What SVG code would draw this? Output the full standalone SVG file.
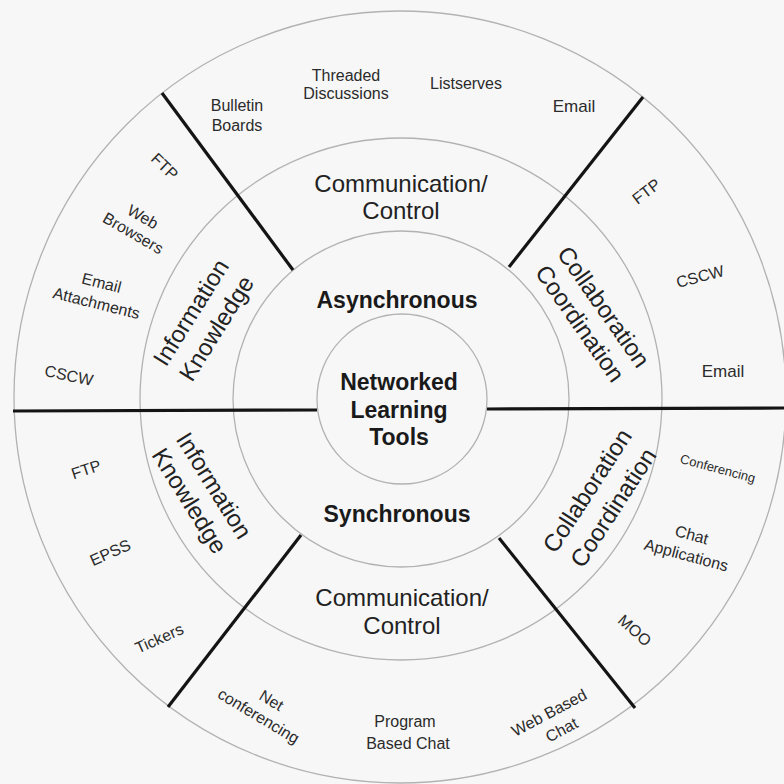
<svg xmlns="http://www.w3.org/2000/svg" width="784" height="784" viewBox="0 0 784 784">
  <style>
    .ring { fill: none; stroke: #b2b2b2; stroke-width: 1.3; }
    .sep { stroke: #141414; stroke-width: 3.2; stroke-linecap: butt; }
    text { font-family: "Liberation Sans", Arial, sans-serif; fill: #2b2b2b; text-anchor: middle; }
    .item { font-size: 16px; }
    .small { font-size: 13px; }
    .mode { font-size: 24px; fill: #222; }
    .hub { font-size: 23px; font-weight: bold; fill: #1a1a1a; }
  </style>

  <rect width="784" height="784" fill="#f7f7f7"/>

  <!-- concentric rings -->
  <g id="rings">
    <circle class="ring" cx="400" cy="397" r="386"/>
    <circle class="ring" cx="401" cy="399" r="261"/>
    <circle class="ring" cx="401" cy="399" r="168"/>
    <circle class="ring" cx="402" cy="399" r="85"/>
  </g>

  <!-- sector dividers -->
  <g id="connectors">
    <line class="sep" x1="13" y1="411" x2="317" y2="410"/>
    <line class="sep" x1="487" y1="409" x2="784" y2="408"/>
    <line class="sep" x1="162" y1="93" x2="293" y2="270"/>
    <line class="sep" x1="643" y1="97" x2="509" y2="267"/>
    <line class="sep" x1="301" y1="535" x2="168" y2="707"/>
    <line class="sep" x1="499" y1="538" x2="635" y2="708"/>
  </g>

  <!-- hub -->
  <g id="hub">
    <text class="hub"><tspan x="399" y="390">Networked</tspan><tspan x="399" y="418">Learning</tspan><tspan x="399" y="445">Tools</tspan></text>
  </g>
  <g id="asynchronous"><text class="hub" x="397" y="308">Asynchronous</text></g>
  <g id="synchronous"><text class="hub" x="397" y="522">Synchronous</text></g>

  <!-- middle ring: asynchronous -->
  <g id="async-communication">
    <text class="mode"><tspan x="401" y="192">Communication/</tspan><tspan x="401" y="219">Control</tspan></text>
  </g>
  <g id="async-information">
    <text class="mode" transform="translate(203 320) rotate(-58)"><tspan x="0" y="-6">Information</tspan><tspan x="0" y="24">Knowledge</tspan></text>
  </g>
  <g id="async-collaboration">
    <text class="mode" transform="translate(592 315) rotate(55)"><tspan x="0" y="-6">Collaboration</tspan><tspan x="0" y="23">Coordination</tspan></text>
  </g>

  <!-- middle ring: synchronous -->
  <g id="sync-communication">
    <text class="mode"><tspan x="402" y="606">Communication/</tspan><tspan x="402" y="634">Control</tspan></text>
  </g>
  <g id="sync-information">
    <text class="mode" transform="translate(202 493) rotate(58)"><tspan x="0" y="-6">Information</tspan><tspan x="0" y="23">Knowledge</tspan></text>
  </g>
  <g id="sync-collaboration">
    <text class="mode" transform="translate(600 499) rotate(-57)"><tspan x="0" y="-7">Collaboration</tspan><tspan x="0" y="24">Coordination</tspan></text>
  </g>

  <!-- outer ring: asynchronous communication tools -->
  <g id="bulletin-boards"><text class="item"><tspan x="237" y="111">Bulletin</tspan><tspan x="237" y="131">Boards</tspan></text></g>
  <g id="threaded-discussions"><text class="item"><tspan x="346" y="81">Threaded</tspan><tspan x="346" y="99">Discussions</tspan></text></g>
  <g id="listserves"><text class="item" x="466" y="89">Listserves</text></g>
  <g id="email-async-comm"><text class="item" x="574" y="112" style="font-size:17px">Email</text></g>

  <!-- outer ring: asynchronous information tools -->
  <g id="ftp-async-info"><text class="item" transform="translate(165 166) rotate(44)" y="6">FTP</text></g>
  <g id="web-browsers"><text class="item" transform="translate(138 225) rotate(30)"><tspan x="0" y="-4">Web</tspan><tspan x="0" y="15">Browsers</tspan></text></g>
  <g id="email-attachments"><text class="item" transform="translate(99 293) rotate(14)"><tspan x="0" y="-5">Email</tspan><tspan x="0" y="16">Attachments</tspan></text></g>
  <g id="cscw-async-info"><text class="item" transform="translate(69 375) rotate(12)" y="6">CSCW</text></g>

  <!-- outer ring: asynchronous collaboration tools -->
  <g id="ftp-async-collab"><text class="item" transform="translate(646 191) rotate(-37)" y="6">FTP</text></g>
  <g id="cscw-async-collab"><text class="item" transform="translate(700 276) rotate(-15)" y="6">CSCW</text></g>
  <g id="email-async-collab"><text class="item" x="723" y="377" style="font-size:17px">Email</text></g>

  <!-- outer ring: synchronous information tools -->
  <g id="ftp-sync-info"><text class="item" transform="translate(86 469) rotate(-18)" y="6">FTP</text></g>
  <g id="epss"><text class="item" transform="translate(110 552) rotate(-24)" y="6">EPSS</text></g>
  <g id="tickers"><text class="item" transform="translate(159 638) rotate(-24)" y="6">Tickers</text></g>

  <!-- outer ring: synchronous communication tools -->
  <g id="net-conferencing"><text class="item" transform="translate(264 707) rotate(31)"><tspan x="3" y="-4">Net</tspan><tspan x="0" y="16">conferencing</tspan></text></g>
  <g id="program-based-chat"><text class="item"><tspan x="405" y="727">Program</tspan><tspan x="408" y="749">Based Chat</tspan></text></g>
  <g id="web-based-chat"><text class="item" transform="translate(554 722) rotate(-28)"><tspan x="0" y="-5">Web Based</tspan><tspan x="3" y="16">Chat</tspan></text></g>

  <!-- outer ring: synchronous collaboration tools -->
  <g id="conferencing"><text class="small" transform="translate(718 468) rotate(15)" y="5">Conferencing</text></g>
  <g id="chat-applications"><text class="item" transform="translate(689 545) rotate(15)"><tspan x="0" y="-5">Chat</tspan><tspan x="0" y="16">Applications</tspan></text></g>
  <g id="moo"><text class="item" transform="translate(635 630) rotate(42)" y="6">MOO</text></g>
</svg>
